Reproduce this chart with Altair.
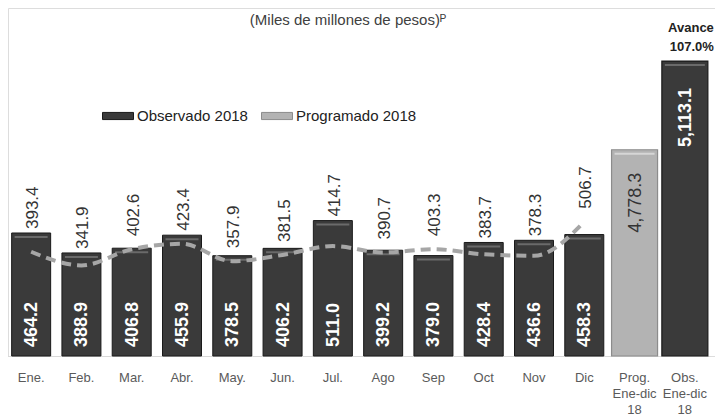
import altair as alt
import pandas as pd

# ---------------- data ----------------
meses = ["Ene.", "Feb.", "Mar.", "Abr.", "May.", "Jun.", "Jul.", "Ago", "Sep", "Oct", "Nov", "Dic"]
observado = [464.2, 388.9, 406.8, 455.9, 378.5, 406.2, 511.0, 399.2, 379.0, 428.4, 436.6, 458.3]
programado = [393.4, 341.9, 402.6, 423.4, 357.9, 381.5, 414.7, 390.7, 403.3, 383.7, 378.3, 506.7]
acum_cat = ["Prog. Ene-dic 18", "Obs. Ene-dic 18"]
acum_val = [4778.3, 5113.1]
acum_serie = ["Programado 2018", "Observado 2018"]
series = ["Observado 2018", "Programado 2018"]
titulo = "(Miles de millones de pesos)ᴾ"

categorias = meses + acum_cat
avance_txt = f"{acum_val[1] / acum_val[0] * 100:.1f}%"

dfm = pd.DataFrame({"cat": meses, "obs": observado, "prog": programado,
                    "serie": ["Observado 2018"] * len(meses)})
dfa = pd.DataFrame({"cat": acum_cat, "val": acum_val, "serie": acum_serie})

FONT = "Liberation Sans"
K = 0.265          # px per unit
H = 348            # plot height
DM = H / K         # monthly domain span
BASE_A = 4000      # annual bars broken-axis base

yM = alt.Scale(domain=[0, DM], zero=False)
yA = alt.Scale(domain=[BASE_A, BASE_A + DM], zero=False)

x_enc = alt.X(
    "cat:N", sort=categorias,
    scale=alt.Scale(domain=categorias, range=[-2, 702], paddingInner=0, paddingOuter=0),
    axis=alt.Axis(title=None, labelExpr="split(datum.label, ' ')", labelAngle=0,
                  ticks=False, tickSize=0, domain=True, domainColor="#d9d9d9",
                  domainWidth=1, labelFont=FONT, labelFontSize=13, labelColor="#5a5a5a",
                  labelPadding=15, labelLineHeight=16, labelOverlap=False, grid=False),
)

color_scale = alt.Scale(domain=series, range=["#3a3a3a", "#b3b3b3"])
leg = alt.Legend(title=None, orient="none", legendX=94, legendY=92, direction="horizontal",
                 symbolType="M-1,-0.23H1V0.23H-1Z", symbolSize=961, labelFont=FONT,
                 labelFontSize=15, labelColor="#222222", labelOffset=3, columnPadding=11,
                 symbolStrokeColor="#111111", symbolStrokeWidth=1, padding=0)

# ---------------- monthly layers ----------------
bars_m = alt.Chart(dfm).mark_bar(size=39, stroke="#1a1a1a", strokeWidth=1).encode(
    x=x_enc, y=alt.Y("obs:Q", scale=yM, axis=None),
    color=alt.Color("serie:N", scale=color_scale, legend=leg))

bevel_m = alt.Chart(dfm).mark_tick(size=33, thickness=2, yOffset=4, color="#6a6a6a", opacity=1).encode(
    x=x_enc, y=alt.Y("obs:Q", scale=yM, axis=None))

line = alt.Chart(dfm).mark_line(color="#a6a6a6", strokeWidth=4, strokeDash=[10, 6],
                                interpolate="monotone").encode(
    x=x_enc, y=alt.Y("prog:Q", scale=yM, axis=None))

line_lab = alt.Chart(dfm).transform_calculate(
    lp="max(datum.prog + 49, datum.obs + 15)"
).mark_text(angle=270, align="left", baseline="middle", dy=2, font=FONT, fontSize=17,
            color="#333333").encode(
    x=x_enc, y=alt.Y("lp:Q", scale=yM, axis=None), text=alt.Text("prog:Q", format=".1f"))

bar_lab = alt.Chart(dfm).transform_calculate(base="0").mark_text(
    angle=270, align="left", baseline="middle", dx=9, dy=1, font=FONT, fontSize=18,
    fontWeight="bold", color="white").encode(
    x=x_enc, y=alt.Y("base:Q", scale=yM, axis=None), text=alt.Text("obs:Q", format=".1f"))

monthly = alt.layer(bars_m, bevel_m, line, line_lab, bar_lab)

# ---------------- annual layers ----------------
bars_a = alt.Chart(dfa).mark_bar(size=46, strokeWidth=1.2).encode(
    x=x_enc, y=alt.Y("val:Q", scale=yA, axis=None), y2=alt.datum(BASE_A),
    color=alt.Color("serie:N", scale=color_scale, legend=leg),
    stroke=alt.Stroke("serie:N", scale=alt.Scale(domain=series, range=["#1a1a1a", "#8c8c8c"]),
                      legend=None))

bevel_a = alt.Chart(dfa).mark_tick(size=40, thickness=2, yOffset=4, opacity=1).encode(
    x=x_enc, y=alt.Y("val:Q", scale=yA, axis=None),
    color=alt.condition(alt.datum.serie == "Observado 2018", alt.value("#6a6a6a"),
                        alt.value("#d6d6d6")))

lab_obs = alt.Chart(dfa).transform_filter(alt.datum.serie == "Observado 2018").mark_text(
    angle=270, align="right", baseline="middle", dx=-27, dy=1, font=FONT, fontSize=18,
    fontWeight="bold", color="white").encode(
    x=x_enc, y=alt.Y("val:Q", scale=yA, axis=None), text=alt.Text("val:Q", format=",.1f"))

lab_prog = alt.Chart(dfa).transform_filter(alt.datum.serie == "Programado 2018").mark_text(
    angle=270, align="right", baseline="middle", dx=-23, dy=1, font=FONT, fontSize=18,
    color="#333333").encode(
    x=x_enc, y=alt.Y("val:Q", scale=yA, axis=None), text=alt.Text("val:Q", format=",.1f"))

avance = alt.Chart(dfa).transform_filter(alt.datum.serie == "Observado 2018").mark_text(
    text=["Avance", avance_txt], align="right", baseline="alphabetic", dx=29, dy=-29,
    lineHeight=19, font=FONT, fontSize=13, fontWeight="bold", color="#222222").encode(
    x=x_enc, y=alt.Y("val:Q", scale=yA, axis=None))

annual = alt.layer(bars_a, bevel_a, lab_obs, lab_prog, avance)

title_layer = alt.Chart(pd.DataFrame({"t": [titulo]})).mark_text(
    font=FONT, fontSize=15, color="#404040", align="center", baseline="middle").encode(
    x=alt.value(340), y=alt.value(12), text="t:N")

chart = alt.layer(monthly, annual, title_layer).resolve_scale(
    y="independent"
).properties(
    width=707, height=H,
    padding={"left": 0, "top": 0, "right": 0, "bottom": 61},
    autosize=alt.AutoSizeParams(type="none"),
    background="white",
).configure_view(stroke=None).configure(font=FONT)

chart.save("out.html", embed_options={"renderer": "svg", "actions": False})
